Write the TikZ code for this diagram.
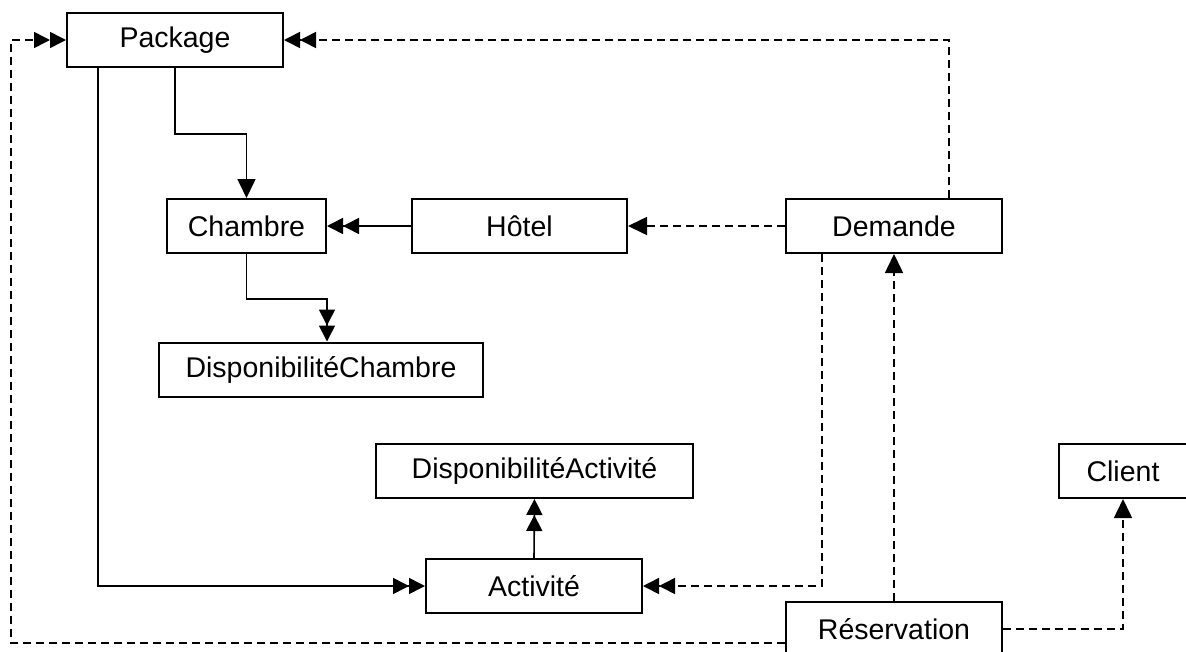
\documentclass[tikz,border=0pt]{standalone}
\usepackage{fontspec}
\setmainfont{Liberation Sans}
\usetikzlibrary{arrows.meta}
\begin{document}
\begin{tikzpicture}[x=1pt,y=-1pt,
  box/.style={draw,line width=2pt,minimum height=54pt,inner sep=0pt,font=\fontsize{28.5}{34}\selectfont},
  conn/.style={line width=1.6pt},
  dsh/.style={conn,dash pattern=on 8pt off 5pt},
  one/.style={-{Triangle[length=19pt,width=18pt]}},
  two/.style={-{Triangle[length=16pt,width=16pt]Triangle[length=16pt,width=16pt]}}]
\useasboundingbox (0,0) rectangle (1186,651);
\node[box,minimum width=216pt] (package) at (175,40) {Package};
\node[box,minimum width=159pt] (chambre) at (246.5,226) {Chambre};
\node[box,minimum width=215pt] (hotel) at (519.5,226) {Hôtel};
\node[box,minimum width=216pt] (demande) at (894,226) {Demande};
\node[box,minimum width=324pt] (dispch) at (321,369.5) {DisponibilitéChambre};
\node[box,minimum width=317pt] (dispact) at (534.5,471) {DisponibilitéActivité};
\node[box,minimum width=216pt] (activite) at (534,586) {Activité};
\node[box,minimum width=128pt] (client) at (1123,471) {Client};
\node[box,minimum width=216pt] (reservation) at (894,629) {Réservation};
% solid
\draw[conn,one] (package.south) -- ++(0,66) -| (chambre.north);
\draw[conn,two] (hotel.west) -- (chambre.east);
\draw[conn,two] (chambre.south) -- ++(0,45) -| (dispch.north -| chambre.east);
\draw[conn,two] ([xshift=-77pt]package.south) |- (activite.west);
\draw[conn,two] (activite.north) -- (dispact.north |- dispact.south);
% dashed
\draw[dsh,one] (demande.west) -- (hotel.east);
\draw[dsh,two] ([xshift=55pt]demande.north) |- (package.east);
\draw[dsh,two] ([xshift=-72pt]demande.south) |- (activite.east);
\draw[dsh,one] (reservation.north) -- (demande.south);
\draw[dsh,one] (reservation.east) -| (client.south);
\draw[dsh,two] ([yshift=-14pt]reservation.west) -- ++(-774,0) |- (package.west);
\end{tikzpicture}
\end{document}
